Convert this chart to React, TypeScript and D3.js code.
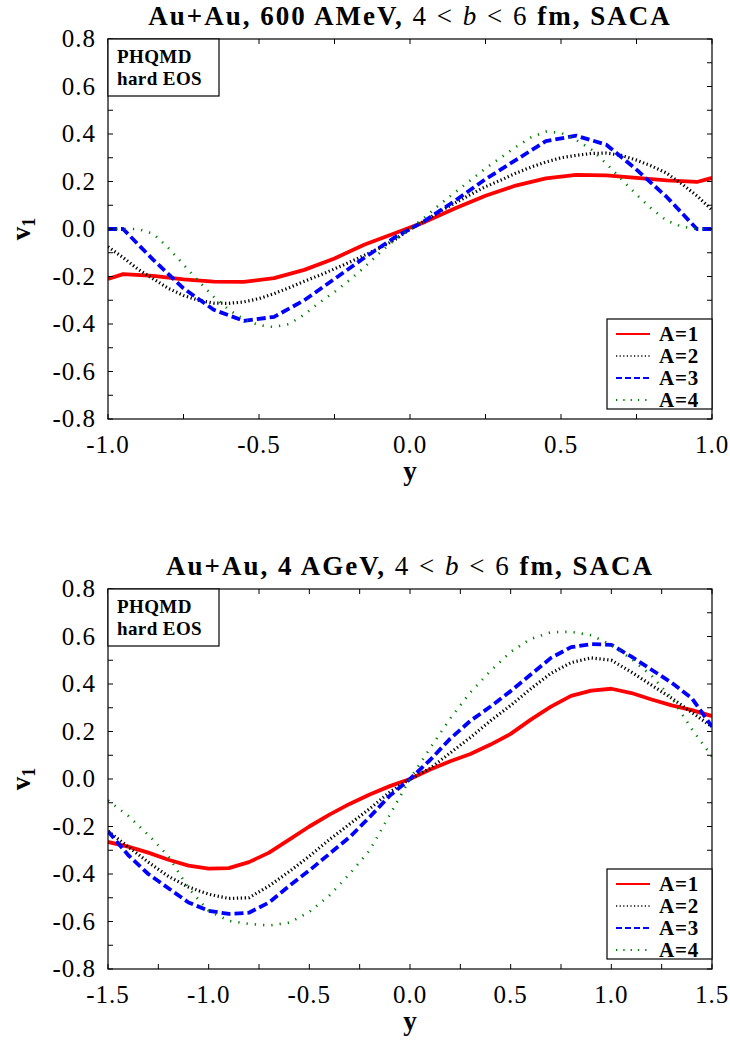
import React from "react";
import * as d3 from "d3";

// ---------- data: top panel (600 AMeV) ----------
const topXA13 = [-1.0, -0.95, -0.85, -0.75, -0.65, -0.55, -0.45, -0.35, -0.25, -0.15, -0.05, 0.05, 0.15, 0.25, 0.35, 0.45, 0.55, 0.65, 0.75, 0.85, 0.95, 1.0];
const topA1 = [-0.21, -0.19, -0.197, -0.212, -0.222, -0.223, -0.207, -0.172, -0.124, -0.065, -0.018, 0.03, 0.087, 0.14, 0.183, 0.213, 0.228, 0.226, 0.215, 0.205, 0.198, 0.215];
const topA3 = [0, 0, -0.13, -0.25, -0.34, -0.387, -0.37, -0.3, -0.21, -0.12, -0.035, 0.035, 0.12, 0.21, 0.29, 0.37, 0.393, 0.355, 0.25, 0.135, 0, 0];
const topXA24 = [-1.0, -0.95, -0.9, -0.85, -0.8, -0.75, -0.7, -0.65, -0.6, -0.55, -0.5, -0.45, -0.4, -0.35, -0.3, -0.25, -0.2, -0.15, -0.1, -0.05, 0, 0.05, 0.1, 0.15, 0.2, 0.25, 0.3, 0.35, 0.4, 0.45, 0.5, 0.55, 0.6, 0.65, 0.7, 0.75, 0.8, 0.85, 0.9, 0.95, 1.0];
const topA2 = [-0.075, -0.12, -0.17, -0.21, -0.25, -0.28, -0.3, -0.312, -0.313, -0.307, -0.293, -0.272, -0.247, -0.22, -0.195, -0.168, -0.14, -0.11, -0.08, -0.045, 0, 0.035, 0.075, 0.11, 0.145, 0.178, 0.205, 0.235, 0.26, 0.282, 0.3, 0.31, 0.318, 0.32, 0.31, 0.29, 0.265, 0.235, 0.19, 0.14, 0.08];
const topA4 = [0, 0, 0, -0.02, -0.08, -0.15, -0.22, -0.285, -0.34, -0.38, -0.405, -0.413, -0.4, -0.36, -0.31, -0.265, -0.215, -0.16, -0.1, -0.045, 0, 0.05, 0.105, 0.155, 0.205, 0.255, 0.3, 0.345, 0.385, 0.41, 0.405, 0.375, 0.335, 0.275, 0.21, 0.145, 0.085, 0.035, 0.01, 0, 0];

// ---------- data: bottom panel (4 AGeV) ----------
const botX = [-1.5, -1.4, -1.3, -1.2, -1.1, -1.0, -0.9, -0.8, -0.7, -0.6, -0.5, -0.4, -0.3, -0.2, -0.1, 0, 0.1, 0.2, 0.3, 0.4, 0.5, 0.6, 0.7, 0.8, 0.9, 1.0, 1.1, 1.2, 1.3, 1.4, 1.5];
const botA1 = [-0.265, -0.285, -0.31, -0.34, -0.365, -0.377, -0.375, -0.35, -0.31, -0.255, -0.2, -0.15, -0.105, -0.065, -0.03, 0, 0.04, 0.075, 0.105, 0.145, 0.19, 0.25, 0.305, 0.35, 0.372, 0.38, 0.362, 0.335, 0.31, 0.29, 0.265];
const botA2 = [-0.22, -0.285, -0.35, -0.41, -0.455, -0.485, -0.503, -0.5, -0.45, -0.39, -0.325, -0.255, -0.19, -0.125, -0.055, 0, 0.045, 0.11, 0.175, 0.245, 0.31, 0.38, 0.445, 0.49, 0.51, 0.5, 0.45, 0.395, 0.34, 0.28, 0.22];
const botA3 = [-0.22, -0.32, -0.4, -0.46, -0.52, -0.555, -0.568, -0.563, -0.52, -0.45, -0.385, -0.315, -0.245, -0.16, -0.07, 0, 0.08, 0.17, 0.245, 0.305, 0.37, 0.44, 0.51, 0.555, 0.568, 0.565, 0.515, 0.46, 0.405, 0.34, 0.22];
const botA4 = [-0.09, -0.155, -0.235, -0.325, -0.46, -0.555, -0.597, -0.61, -0.617, -0.605, -0.56, -0.49, -0.4, -0.3, -0.15, 0, 0.13, 0.255, 0.365, 0.455, 0.535, 0.59, 0.618, 0.62, 0.605, 0.565, 0.505, 0.435, 0.34, 0.21, 0.095];

// ---------- ticks / labels ----------
const yTickLabels = ["0.8", "0.6", "0.4", "0.2", "0.0", "-0.2", "-0.4", "-0.6", "-0.8"];
const topXTickLabels = ["-1.0", "-0.5", "0.0", "0.5", "1.0"];
const botXTickLabels = ["-1.5", "-1.0", "-0.5", "0.0", "0.5", "1.0", "1.5"];
const legendLabels = ["A=1", "A=2", "A=3", "A=4"];

const SERIF = "'Liberation Serif', 'Times New Roman', 'DejaVu Serif', 'Noto Serif', Times, serif";

const styles = [
  { color: "#ff0000", width: 3.8, dash: undefined as string | undefined, lw: 2, ldash: undefined as string | undefined },
  { color: "#000000", width: 3.2, dash: "1.3,2.6", lw: 1.6, ldash: "1.2,2.4" },
  { color: "#0000ff", width: 3.8, dash: "9,4", lw: 2, ldash: "6,3" },
  { color: "#008000", width: 2.6, dash: "1.3,7", lw: 1.8, ldash: "1.3,6" },
];

function Panel(props: {
  top: number;
  xMin: number;
  xMax: number;
  xLabels: string[];
  xMinorStep: number;
  series: { xs: number[]; ys: number[] }[];
  energy: string;
  id: string;
}) {
  const L = 108, R = 712, T = props.top, B = props.top + 380;
  const x = d3.scaleLinear().domain([props.xMin, props.xMax]).range([L, R]);
  const y = d3.scaleLinear().domain([-0.8, 0.8]).range([B, T]);
  const xMinor = d3.range(props.xMin, props.xMax + 1e-9, props.xMinorStep);
  const yMinor = d3.range(-0.8, 0.8 + 1e-9, 0.1);
  const xLabelVals = props.xLabels.map(Number);
  const yLabelVals = yTickLabels.map(Number);
  const line = d3.line<[number, number]>().x((d) => x(d[0])).y((d) => y(d[1]));
  const tl = 5;
  const legTop = B - 100;
  const ff = { fontFamily: SERIF };
  return (
    <g style={ff}>
      <defs>
        <clipPath id={props.id}>
          <rect x={L} y={T} width={R - L} height={B - T} />
        </clipPath>
      </defs>
      {/* title */}
      <text x={(L + R) / 2} y={T - 14} textAnchor="middle" style={{ ...ff, fontSize: 27, letterSpacing: 2 }}>
        <tspan fontWeight="bold">{`Au+Au, ${props.energy}, `}</tspan>
        <tspan>{"4 < "}</tspan>
        <tspan fontStyle="italic">b</tspan>
        <tspan>{" < 6 "}</tspan>
        <tspan fontWeight="bold">fm, SACA</tspan>
      </text>
      {/* curves */}
      <g clipPath={`url(#${props.id})`}>
        {props.series.map((s, i) => (
          <path
            key={i}
            d={line(s.xs.map((v, k) => [v, s.ys[k]] as [number, number])) || ""}
            fill="none"
            stroke={styles[i].color}
            strokeWidth={styles[i].width}
            strokeDasharray={styles[i].dash}
            strokeLinejoin="round"
          />
        ))}
      </g>
      {/* frame */}
      <rect x={L} y={T} width={R - L} height={B - T} fill="none" stroke="#000" strokeWidth={1.2} />
      {/* ticks */}
      {yMinor.map((v, i) => (
        <g key={"yt" + i}>
          <line x1={L} x2={L + tl} y1={y(v)} y2={y(v)} stroke="#000" strokeWidth={1} />
          <line x1={R} x2={R - tl} y1={y(v)} y2={y(v)} stroke="#000" strokeWidth={1} />
        </g>
      ))}
      {xMinor.map((v, i) => (
        <g key={"xt" + i}>
          <line x1={x(v)} x2={x(v)} y1={B} y2={B - tl} stroke="#000" strokeWidth={1} />
          <line x1={x(v)} x2={x(v)} y1={T} y2={T + tl} stroke="#000" strokeWidth={1} />
        </g>
      ))}
      {yLabelVals.map((v, i) => (
        <text key={"yl" + i} x={96} y={y(v) + 8} textAnchor="end" style={{ ...ff, fontSize: 25, letterSpacing: 1 }}>
          {yTickLabels[i]}
        </text>
      ))}
      {xLabelVals.map((v, i) => (
        <text key={"xl" + i} x={x(v)} y={B + 34} textAnchor="middle" style={{ ...ff, fontSize: 25, letterSpacing: 1 }}>
          {props.xLabels[i]}
        </text>
      ))}
      {/* axis titles */}
      <text x={(L + R) / 2} y={B + 61} textAnchor="middle" style={{ ...ff, fontSize: 27, fontWeight: "bold" }}>
        y
      </text>
      <text
        transform={`translate(30, ${(T + B) / 2}) rotate(-90)`}
        textAnchor="middle"
        style={{ ...ff, fontSize: 27, fontWeight: "bold" }}
      >
        v<tspan fontSize={18} dy={5}>1</tspan>
      </text>
      {/* PHQMD box */}
      <rect x={L} y={T} width={111} height={57} fill="#fff" stroke="#000" strokeWidth={1.2} />
      <text x={L + 9} y={T + 24} style={{ ...ff, fontSize: 19, fontWeight: "bold", letterSpacing: 0.4 }}>
        PHQMD
      </text>
      <text x={L + 9} y={T + 46} style={{ ...ff, fontSize: 19, fontWeight: "bold", letterSpacing: 0.4 }}>
        hard EOS
      </text>
      {/* legend */}
      <rect x={607} y={legTop} width={R - 607} height={90} fill="#fff" stroke="#000" strokeWidth={1.2} />
      {legendLabels.map((lab, i) => {
        const yy = legTop + 15 + i * 22;
        return (
          <g key={lab}>
            <line x1={616} x2={650} y1={yy} y2={yy} stroke={styles[i].color} strokeWidth={styles[i].lw} strokeDasharray={styles[i].ldash} />
            <text x={659} y={yy + 7} style={{ ...ff, fontSize: 21, fontWeight: "bold", letterSpacing: 0.8 }}>
              {lab}
            </text>
          </g>
        );
      })}
    </g>
  );
}

export default function App() {
  return (
    <svg width={730} height={1041} style={{ position: "absolute", left: 0, top: 0, background: "#fff" }}>
      <rect width={730} height={1041} fill="#fff" />
      <Panel
        id="clipTop"
        top={39}
        xMin={-1}
        xMax={1}
        xLabels={topXTickLabels}
        xMinorStep={0.25}
        energy="600 AMeV"
        series={[
          { xs: topXA13, ys: topA1 },
          { xs: topXA24, ys: topA2 },
          { xs: topXA13, ys: topA3 },
          { xs: topXA24, ys: topA4 },
        ]}
      />
      <Panel
        id="clipBot"
        top={589}
        xMin={-1.5}
        xMax={1.5}
        xLabels={botXTickLabels}
        xMinorStep={0.25}
        energy="4 AGeV"
        series={[
          { xs: botX, ys: botA1 },
          { xs: botX, ys: botA2 },
          { xs: botX, ys: botA3 },
          { xs: botX, ys: botA4 },
        ]}
      />
    </svg>
  );
}
